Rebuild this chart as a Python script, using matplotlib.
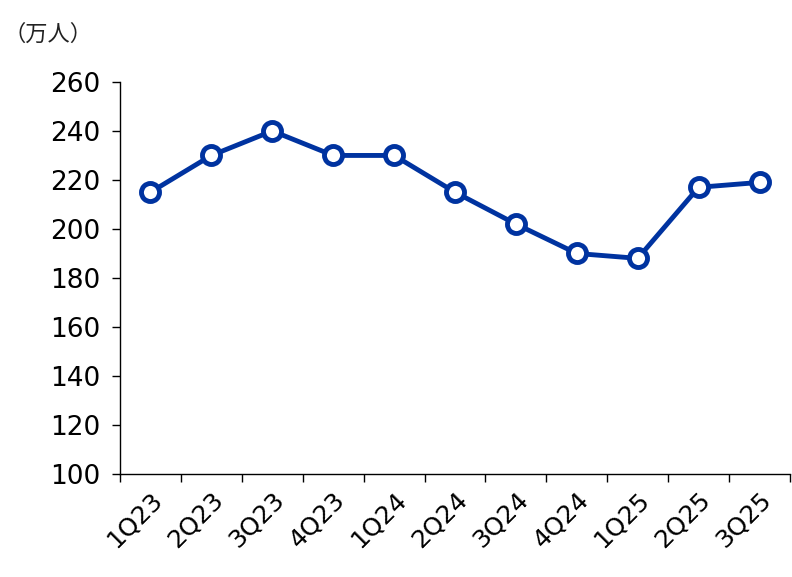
import matplotlib
matplotlib.use("Agg")
import matplotlib.pyplot as plt

quarters = ["1Q23", "2Q23", "3Q23", "4Q23", "1Q24", "2Q24", "3Q24",
            "4Q24", "1Q25", "2Q25", "3Q25"]
values = [215, 230, 240, 230, 230, 215, 202, 190, 188, 217, 219]
y_ticks = list(range(100, 261, 20))

LINE = "#0033a0"

fig = plt.figure(figsize=(7.92, 5.77), dpi=100)
ax = fig.add_axes([0.1515, 0.1785, 0.846, 0.6795])

x = list(range(len(quarters)))
ax.plot(x, values, color=LINE, linewidth=3.5, marker="o", markersize=13,
        markerfacecolor="white", markeredgecolor=LINE, markeredgewidth=3.5,
        zorder=3, clip_on=False)

ax.set_xlim(-0.5, len(quarters) - 0.5)
ax.set_ylim(100, 260)
ax.set_yticks(y_ticks)
ax.tick_params(axis="y", labelsize=19, length=6, width=1, direction="out", pad=8)

ax.set_xticks([i - 0.5 for i in range(len(quarters) + 1)])
ax.set_xticklabels([])
ax.tick_params(axis="x", which="major", length=6, width=1, direction="out")
ax.set_xticks(x, minor=True)
ax.set_xticklabels(quarters, minor=True, rotation=45, ha="right",
                   rotation_mode="anchor", fontsize=18)
ax.tick_params(axis="x", which="minor", length=0, pad=10)

for s in ["top", "right"]:
    ax.spines[s].set_visible(False)
for s in ["left", "bottom"]:
    ax.spines[s].set_linewidth(1)

fig.text(0.005, 0.93, "（万人）", fontsize=16,
         family=["Noto Sans CJK JP", "DejaVu Sans"], color="#222222")

fig.savefig("out.png", dpi=100)
